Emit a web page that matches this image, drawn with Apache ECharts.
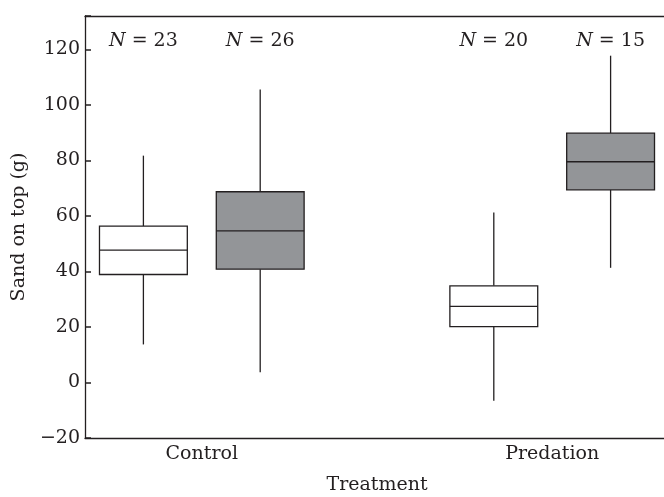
<!DOCTYPE html>
<html><head><meta charset="utf-8">
<script src="https://cdn.jsdelivr.net/npm/echarts@6/dist/echarts.min.js"></script>
<style>html,body{margin:0;padding:0;background:#fff}#c{width:664px;height:497px}</style>
</head><body><div id="c"></div>
<script>
const categories = ['Control', 'Predation'];
// each box: [min, Q1, median, Q3, max]
const openBoxes = [[13.7, 38.9, 47.7, 56.3, 81.7], [-6.6, 20.1, 27.4, 34.8, 61.2]];
const shadedBoxes = [[3.7, 40.8, 54.6, 68.7, 105.5], [41.3, 69.4, 79.5, 89.8, 117.7]];
const openN = [23, 20];
const shadedN = [26, 15];
const yMin = -20, yMax = 132, yStep = 20;
const yTitle = 'Sand on top (g)';
const xTitle = 'Treatment';

const INK = '#231f20';
const SHADE = '#939598';
const FONT = 'DejaVu Serif';
const N_LABEL_Y = 123;

// slot axis: open box, shaded box for each category, one empty slot between categories
const slots = [];
categories.forEach((c, i) => {
  if (i > 0) slots.push('gap' + i);
  slots.push(c + '|open');
  slots.push(c + '|shaded');
});
// label axis: half-slot positions, category label centred between its two boxes
const labelSlots = Array.from({length: slots.length * 2 + 1}, (_, j) => 'p' + j);
const labelText = {};
categories.forEach((c, i) => { labelText[2 * (3 * i + 1)] = c; });

const boxData = [];
const nData = [];
categories.forEach((c, i) => {
  boxData.push([c + '|open'].concat(openBoxes[i], [0]));
  boxData.push([c + '|shaded'].concat(shadedBoxes[i], [1]));
  nData.push({value: [c + '|open', N_LABEL_Y], n: openN[i]});
  nData.push({value: [c + '|shaded', N_LABEL_Y], n: shadedN[i]});
});

function renderBox(params, api) {
  const x = api.value(0);
  const pMin = api.coord([x, api.value(1)]);
  const pQ1 = api.coord([x, api.value(2)]);
  const pMed = api.coord([x, api.value(3)]);
  const pQ3 = api.coord([x, api.value(4)]);
  const pMax = api.coord([x, api.value(5)]);
  const half = api.size([1, 0])[0] * 0.376;
  const fill = api.value(6) ? SHADE : '#ffffff';
  const cx = pMed[0];
  const st = {stroke: INK, lineWidth: 1.3, fill: null};
  return {type: 'group', children: [
    {type: 'line', shape: {x1: cx, y1: pMax[1], x2: cx, y2: pQ3[1]}, style: st},
    {type: 'line', shape: {x1: cx, y1: pQ1[1], x2: cx, y2: pMin[1]}, style: st},
    {type: 'rect', shape: {x: cx - half, y: pQ3[1], width: 2 * half, height: pQ1[1] - pQ3[1]},
      style: {fill: fill, stroke: INK, lineWidth: 1.3}},
    {type: 'line', shape: {x1: cx - half, y1: pMed[1], x2: cx + half, y2: pMed[1]}, style: st}
  ]};
}

const chart = echarts.init(document.getElementById('c'), null, {renderer: 'canvas'});
chart.setOption({
  animation: false,
  backgroundColor: '#fff',
  textStyle: {fontFamily: FONT, color: INK},
  grid: {left: 85, top: 16, width: 584, height: 422, outerBoundsMode: 'none', containLabel: false},
  xAxis: [{
    type: 'category', data: slots, position: 'top', boundaryGap: true,
    axisLine: {show: true, onZero: false, lineStyle: {color: INK, width: 1.3}},
    axisTick: {show: false}, axisLabel: {show: false}, splitLine: {show: false}
  }, {
    type: 'category', data: labelSlots, position: 'bottom', boundaryGap: false,
    axisLine: {show: true, onZero: false, lineStyle: {color: INK, width: 1.3}},
    axisTick: {show: false},
    axisLabel: {interval: 0, margin: 7, fontSize: 19, fontFamily: FONT, color: INK,
      formatter: (v, idx) => labelText[idx] || ''},
    name: xTitle, nameLocation: 'middle', nameGap: 38,
    nameTextStyle: {fontSize: 19, fontFamily: FONT, color: INK},
    splitLine: {show: false}
  }],
  yAxis: {
    type: 'value', min: yMin, max: yMax, interval: yStep,
    axisLine: {show: true, onZero: false, lineStyle: {color: INK, width: 1.3}},
    axisTick: {show: true, inside: true, length: 6, lineStyle: {color: INK, width: 1.5}},
    axisLabel: {fontSize: 19, fontFamily: FONT, color: INK, margin: 5,
      formatter: v => (v % yStep !== 0 ? '' : String(v).replace('-', '\u2212'))},
    splitLine: {show: false},
    name: yTitle, nameLocation: 'middle', nameGap: 52, nameRotate: 90,
    nameTextStyle: {fontSize: 19, fontFamily: FONT, color: INK}
  },
  series: [{
    type: 'custom', xAxisIndex: 0, yAxisIndex: 0,
    renderItem: renderBox, data: boxData,
    encode: {x: 0, y: [1, 2, 3, 4, 5]}
  }, {
    type: 'scatter', xAxisIndex: 0, yAxisIndex: 0, symbolSize: 0, data: nData,
    silent: true, itemStyle: {opacity: 1},
    label: {show: true, position: 'inside', opacity: 1, fontSize: 19, fontFamily: FONT, color: INK,
      formatter: p => '{i|N} = ' + p.data.n,
      rich: {i: {fontStyle: 'italic', fontSize: 19, fontFamily: FONT, color: INK, opacity: 1}}}
  }]
});
</script></body></html>
